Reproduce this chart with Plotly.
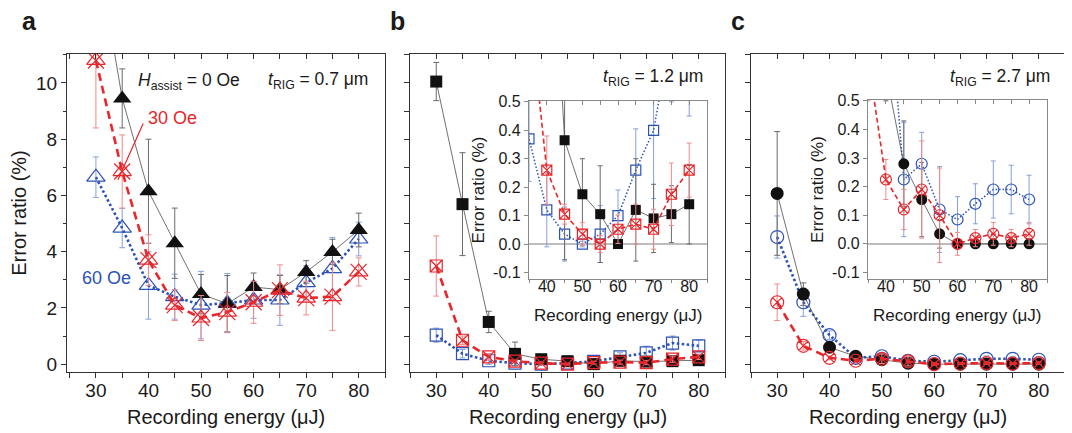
import plotly.graph_objects as go

# ---------------- data ----------------
energy = [30, 35, 40, 45, 50, 55, 60, 65, 70, 75, 80]

# panel a (t_RIG = 0.7 um)
a_0oe = [15.0, 9.45, 6.15, 4.3, 2.49, 2.15, 2.74, 2.65, 3.28, 3.99, 4.77]
a_0oe_err = [1.0, 1.05, 1.85, 1.25, 0.7, 1.0, 0.5, 0.5, 0.4, 0.45, 0.6]
a_30oe = [10.8, 6.85, 3.7, 2.1, 1.64, 1.85, 2.2, 2.63, 2.35, 2.4, 3.28]
a_30oe_err = [2.4, 1.3, 0.9, 0.55, 0.8, 0.7, 0.75, 0.9, 0.6, 1.2, 0.5]
a_60oe = [6.65, 4.84, 2.8, 2.4, 2.1, 2.17, 2.28, 2.28, 2.9, 3.4, 4.45]
a_60oe_err = [0.72, 0.7, 1.2, 0.8, 1.2, 1.05, 0.65, 0.9, 0.6, 1.1, 0.6]

# panel b (t_RIG = 1.2 um)
b_0oe = [10.05, 5.69, 1.5, 0.365, 0.175, 0.105, 0.0, 0.12, 0.09, 0.105, 0.14]
b_0oe_err = [0.68, 1.83, 0.38, 0.42, 0.125, 0.17, 0.0, 0.18, 0.12, 0.1, 0.14]
b_30oe = [3.49, 0.85, 0.26, 0.105, 0.035, 0.0, 0.052, 0.07, 0.052, 0.175, 0.26]
b_30oe_err = [1.07, 0.15, 0.12, 0.035, 0.04, 0.03, 0.05, 0.07, 0.07, 0.11, 0.095]
b_60oe = [1.03, 0.37, 0.12, 0.035, 0.0, 0.035, 0.10, 0.26, 0.40, 0.75, 0.65]
b_60oe_err = [0.25, 0.15, 0.13, 0.095, 0.01, 0.1, 0.09, 0.145, 0.24, 0.25, 0.2]

# panel c (t_RIG = 2.7 um)
c_0oe = [6.07, 2.49, 0.6, 0.28, 0.155, 0.035, 0.0, 0.0, 0.0, 0.0, 0.0]
c_0oe_err = [2.2, 0.4, 0.1, 0.15, 0.13, 0.05, 0.0, 0.0, 0.0, 0.0, 0.0]
c_30oe = [2.2, 0.65, 0.225, 0.12, 0.19, 0.10, 0.0, 0.02, 0.035, 0.02, 0.035]
c_30oe_err = [0.65, 0.15, 0.07, 0.07, 0.17, 0.165, 0.04, 0.03, 0.04, 0.03, 0.04]
c_60oe = [4.52, 2.2, 1.03, 0.225, 0.28, 0.12, 0.085, 0.14, 0.19, 0.19, 0.155]
c_60oe_err = [0.75, 0.5, 0.15, 0.2, 0.11, 0.15, 0.08, 0.07, 0.1, 0.085, 0.085]

inset_tickvals = [-0.1, 0.0, 0.1, 0.2, 0.3, 0.4, 0.5]
inset_ticktext = ["-0.1", "0.0", "0.1", "0.2", "0.3", "0.4", "0.5"]

X_TITLE = "Recording energy (μJ)"
Y_TITLE = "Error ratio (%)"

# ---------------- style ----------------
PAGE_OFF = 8            # default body margin of the html page
W, H = 1072 - PAGE_OFF, 433 - PAGE_OFF
FONT = "Liberation Sans, Arial, sans-serif"
RED, RED_E = "#e8262b", "#f08a8a"
BLUE, BLUE_E = "#2b52b8", "#86a0dc"
BLACK, GREY_LINE, GREY_E = "#111111", "#4d4d4d", "#6b6b6b"
AX = "#333333"
INAX = "#888888"
TXT = "#1a1a1a"


def fx(p):
    return (p - PAGE_OFF) / W


def fy(p):
    return 1 - (p - PAGE_OFF) / H


fig = go.Figure()


def series(xa, ya, vals, errs, kind, symbol, size, inset=False):
    if kind == "black":
        line = dict(color=GREY_LINE, width=0.8)
        marker = dict(symbol=symbol, size=size, color=BLACK, line=dict(width=0))
        ecol = GREY_E
    elif kind == "red":
        line = dict(color=RED, width=1.6 if inset else 2.6,
                    dash="5px,3px" if inset else "8px,5px")
        marker = dict(symbol=symbol, size=size, color=RED,
                      line=dict(color=RED, width=1.2))
        ecol = RED_E
    else:
        line = dict(color=BLUE, width=1.5 if inset else 2.6,
                    dash="1.5px,2px" if inset else "2.5px,2.5px")
        marker = dict(symbol=symbol, size=size, color=BLUE,
                      line=dict(color=BLUE, width=1.2))
        ecol = BLUE_E
    fig.add_trace(go.Scatter(
        x=energy, y=vals, xaxis=xa, yaxis=ya, mode="lines+markers",
        line=line, marker=marker, showlegend=False, hoverinfo="skip",
        error_y=dict(type="data", array=errs, color=ecol, thickness=1,
                     width=3 if not inset else 2.5),
    ))


# panel a
series("x", "y", a_60oe, a_60oe_err, "blue", "triangle-up-open", 16)
series("x", "y", a_0oe, a_0oe_err, "black", "triangle-up", 16)
series("x", "y", a_30oe, a_30oe_err, "red", "triangle-up-open", 16)
fig.add_trace(go.Scatter(x=energy, y=a_30oe, xaxis="x", yaxis="y", mode="markers",
                         marker=dict(symbol="x-thin-open", size=16, color=RED,
                                     line=dict(color=RED, width=1.2)),
                         showlegend=False, hoverinfo="skip"))
# panel b
series("x2", "y2", b_60oe, b_60oe_err, "blue", "square-open", 12)
series("x2", "y2", b_0oe, b_0oe_err, "black", "square", 12)
series("x2", "y2", b_30oe, b_30oe_err, "red", "square-x-open", 12)
# panel c
series("x3", "y3", c_60oe, c_60oe_err, "blue", "circle-open", 13)
series("x3", "y3", c_0oe, c_0oe_err, "black", "circle", 13)
series("x3", "y3", c_30oe, c_30oe_err, "red", "circle-x-open", 13)
# inset b
series("x4", "y4", b_60oe, b_60oe_err, "blue", "square-open", 10, True)
series("x4", "y4", b_0oe, b_0oe_err, "black", "square", 10, True)
series("x4", "y4", b_30oe, b_30oe_err, "red", "square-x-open", 10, True)
# inset c
series("x5", "y5", c_60oe, c_60oe_err, "blue", "circle-open", 11, True)
series("x5", "y5", c_0oe, c_0oe_err, "black", "circle", 11, True)
series("x5", "y5", c_30oe, c_30oe_err, "red", "circle-x-open", 11, True)

# empty traces for top tick overlay axes
for xa, ya in [("x6", "y"), ("x7", "y2"), ("x8", "y3"), ("x9", "y4"), ("x10", "y5")]:
    fig.add_trace(go.Scatter(x=[], y=[], xaxis=xa, yaxis=ya, showlegend=False))

main_y_dom = [fy(372), fy(54)]
yrange = [-0.28, 11.03]
inset_y_range = [-0.123, 0.503]


def main_x(dom, rng, anchor):
    return dict(domain=dom, range=rng, anchor=anchor, tickmode="linear", tick0=0, dtick=10,
                ticks="outside", ticklen=5, tickwidth=1.2, tickcolor=AX,
                minor=dict(tickmode="linear", tick0=0, dtick=5, ticks="outside", ticklen=5,
                           tickwidth=1.2, tickcolor=AX),
                showline=True, linecolor=AX, linewidth=1.3, mirror=True,
                showgrid=False, zeroline=False, ticklabelstandoff=-4,
                tickfont=dict(size=19, color=TXT), automargin=False)


def main_y(anchor, labels):
    d = dict(domain=main_y_dom, range=yrange, anchor=anchor,
             showline=True, linecolor=AX, linewidth=1.3, mirror=True,
             showgrid=False, zeroline=False, automargin=False,
             tickcolor=AX, tickwidth=1.2, ticks="outside")
    if labels:
        d.update(tickmode="linear", tick0=0, dtick=2, ticklen=5,
                 minor=dict(tickmode="linear", tick0=0, dtick=1, ticks="outside", ticklen=3,
                            tickwidth=1.2, tickcolor=AX),
                 tickfont=dict(size=19, color=TXT),
                 title=dict(text=Y_TITLE, font=dict(size=20, color=TXT), standoff=6))
    else:
        d.update(tickmode="linear", tick0=0, dtick=1, ticklen=5, showticklabels=False)
    return d


def top_x(over, rng, anchor, inset=False):
    return dict(overlaying=over, anchor=anchor, side="top", range=rng,
                tickmode="linear", tick0=0, dtick=5, ticks="inside",
                ticklen=4 if inset else 5, tickwidth=1 if inset else 1.2,
                tickcolor=INAX if inset else AX,
                showticklabels=False, showline=False, showgrid=False, zeroline=False)


def inset_x(dom, anchor):
    return dict(domain=dom, range=[35, 85], anchor=anchor, tickmode="linear", tick0=0, dtick=10,
                ticks="outside", ticklen=3, tickwidth=1, tickcolor=INAX,
                minor=dict(tickmode="linear", tick0=0, dtick=5, ticks="outside", ticklen=3,
                           tickwidth=1, tickcolor=INAX),
                showline=True, linecolor=INAX, linewidth=1.2, mirror=True,
                showgrid=False, zeroline=False, automargin=False, ticklabelstandoff=-10,
                tickfont=dict(size=16, color=TXT))


def inset_y(dom, anchor):
    return dict(domain=dom, range=inset_y_range, anchor=anchor, tickmode="array",
                tickvals=inset_tickvals, ticktext=inset_ticktext,
                ticks="outside", ticklen=4, tickwidth=1, tickcolor=INAX,
                showline=True, linecolor=INAX, linewidth=1.2, mirror=True,
                showgrid=False, zeroline=True, zerolinecolor="#bdbdbd", zerolinewidth=1.5,
                automargin=False,
                tickfont=dict(size=16, color=TXT),
                title=dict(text=Y_TITLE, font=dict(size=17, color=TXT), standoff=4))


fig.update_layout(
    width=W, height=H, margin=dict(l=0, r=0, t=0, b=0),
    paper_bgcolor="white", plot_bgcolor="white",
    font=dict(family=FONT, color=TXT),
    showlegend=False,
    xaxis=main_x([fx(67), fx(385)], [24.5, 85], "y"),
    yaxis=main_y("x", True),
    xaxis2=main_x([fx(410), fx(725)], [25, 85], "y2"),
    yaxis2=main_y("x2", False),
    xaxis3=main_x([fx(751), fx(1065)], [25, 85], "y3"),
    yaxis3=main_y("x3", False),
    xaxis4=inset_x([fx(529), fx(707)], "y4"),
    yaxis4=inset_y([fy(279), fy(101)], "x4"),
    xaxis5=inset_x([fx(868), fx(1047)], "y5"),
    yaxis5=inset_y([fy(279), fy(100)], "x5"),
    xaxis6=top_x("x", [24.5, 85], "y"),
    xaxis7=top_x("x2", [25, 85], "y2"),
    xaxis8=top_x("x3", [25, 85], "y3"),
    xaxis9=top_x("x4", [35, 85], "y4", True),
    xaxis10=top_x("x5", [35, 85], "y5", True),
)

ann = []


def txt(text, xp, yp, size=17.5, color=TXT, anchor="left"):
    ann.append(dict(text=text, xref="paper", yref="paper", x=fx(xp), y=fy(yp),
                    xanchor=anchor, yanchor="middle", showarrow=False,
                    font=dict(size=size, color=color, family=FONT)))


txt("<b>a</b>", 20, 21, 25)
txt("<b>b</b>", 388, 21, 25)
txt("<b>c</b>", 729, 21, 25)
txt("<i>H</i><sub>assist</sub> = 0 Oe", 136, 82)
txt("<i>t</i><sub>RIG</sub> = 0.7 μm", 266, 80)
txt("30 Oe", 146, 118, 18, RED)
txt("60 Oe", 80, 278, 18, BLUE)
txt("<i>t</i><sub>RIG</sub> = 1.2 μm", 601, 77)
txt("<i>t</i><sub>RIG</sub> = 2.7 μm", 948, 77)
# x axis titles
txt(X_TITLE, (67 + 385) / 2, 417, 20, anchor="center")
txt(X_TITLE, (410 + 725) / 2, 417, 20, anchor="center")
txt(X_TITLE, (751 + 1065) / 2, 417, 20, anchor="center")
txt(X_TITLE, (529 + 707) / 2, 315, 17, anchor="center")
txt(X_TITLE, (868 + 1047) / 2, 315, 17, anchor="center")
# callout line for "30 Oe"
ann.append(dict(text="", xref="x", yref="y", x=34.18, y=6.55, ax=26, ay=-58,
                showarrow=True, arrowhead=0, arrowwidth=1.2, arrowcolor=RED, standoff=0))
fig.update_layout(annotations=ann)

fig.write_html("out.html")
